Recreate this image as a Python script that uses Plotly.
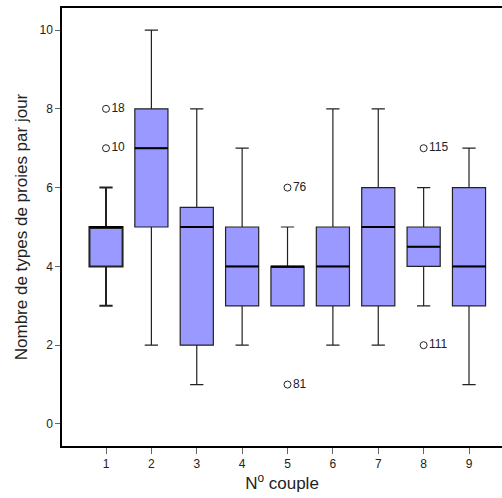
import plotly.graph_objects as go

couples = [1, 2, 3, 4, 5, 6, 7, 8, 9]
q1 = [4, 5, 2, 3, 3, 3, 3, 4, 3]
median = [5, 7, 5, 4, 4, 4, 5, 4.5, 4]
q3 = [5, 8, 5.5, 5, 4, 5, 6, 5, 6]
lower = [3, 2, 1, 2, 3, 2, 2, 3, 1]
upper = [6, 10, 8, 7, 5, 8, 8, 6, 7]

out_x = [1, 1, 5, 5, 8, 8]
out_y = [8, 7, 6, 1, 7, 2]
out_lbl = ["18", "10", "76", "81", "115", "111"]

BW = 0.73
FONT = "Arial, Liberation Sans, sans-serif"

fig = go.Figure()
for i, c in enumerate(couples):
    fig.add_trace(go.Box(
        x=[c], q1=[q1[i]], median=[median[i]], q3=[q3[i]],
        lowerfence=[lower[i]], upperfence=[upper[i]],
        width=BW, whiskerwidth=0.4,
        fillcolor="#9999ff",
        line=dict(color="#222222", width=2 if i == 0 else 1.2),
        boxpoints=False, showlegend=False, hoverinfo="skip",
    ))

# median lines (thicker)
mx, my = [], []
for c, m in zip(couples, median):
    mx += [c - BW / 2, c + BW / 2, None]
    my += [m, m, None]
fig.add_trace(go.Scatter(x=mx, y=my, mode="lines",
                         line=dict(color="black", width=2),
                         showlegend=False, hoverinfo="skip"))

fig.add_trace(go.Scatter(
    x=out_x, y=out_y, mode="markers+text", text=out_lbl,
    textposition="middle right",
    textfont=dict(family=FONT, size=12, color="#222222"),
    marker=dict(symbol="circle-open", size=7, color="#222222", line=dict(width=1)),
    showlegend=False, hoverinfo="skip",
))

fig.update_layout(
    width=502, height=498,
    margin=dict(l=62, r=0, t=8, b=52),
    plot_bgcolor="white", paper_bgcolor="white",
    font=dict(family=FONT, color="#222222"),
    xaxis=dict(
        range=[0.03, 9.727], tickvals=couples, ticktext=[str(c) for c in couples],
        ticks="outside", ticklen=6, tickcolor="#666666",
        showline=True, linecolor="black", linewidth=1.5, mirror=True,
        showgrid=False, zeroline=False,
        tickfont=dict(size=12),
        title=dict(text="N<sup>o</sup> couple", font=dict(size=17), standoff=7),
    ),
    yaxis=dict(
        range=[-0.56, 10.56], tickvals=[0, 2, 4, 6, 8, 10],
        ticks="outside", ticklen=5, tickcolor="#666666",
        showline=True, linecolor="black", linewidth=1.5, mirror=False,
        showgrid=False, zeroline=False,
        tickfont=dict(size=12),
        title=dict(text="Nombre de types de proies par jour", font=dict(size=17), standoff=8),
    ),
)

fig.write_html("out.html")
